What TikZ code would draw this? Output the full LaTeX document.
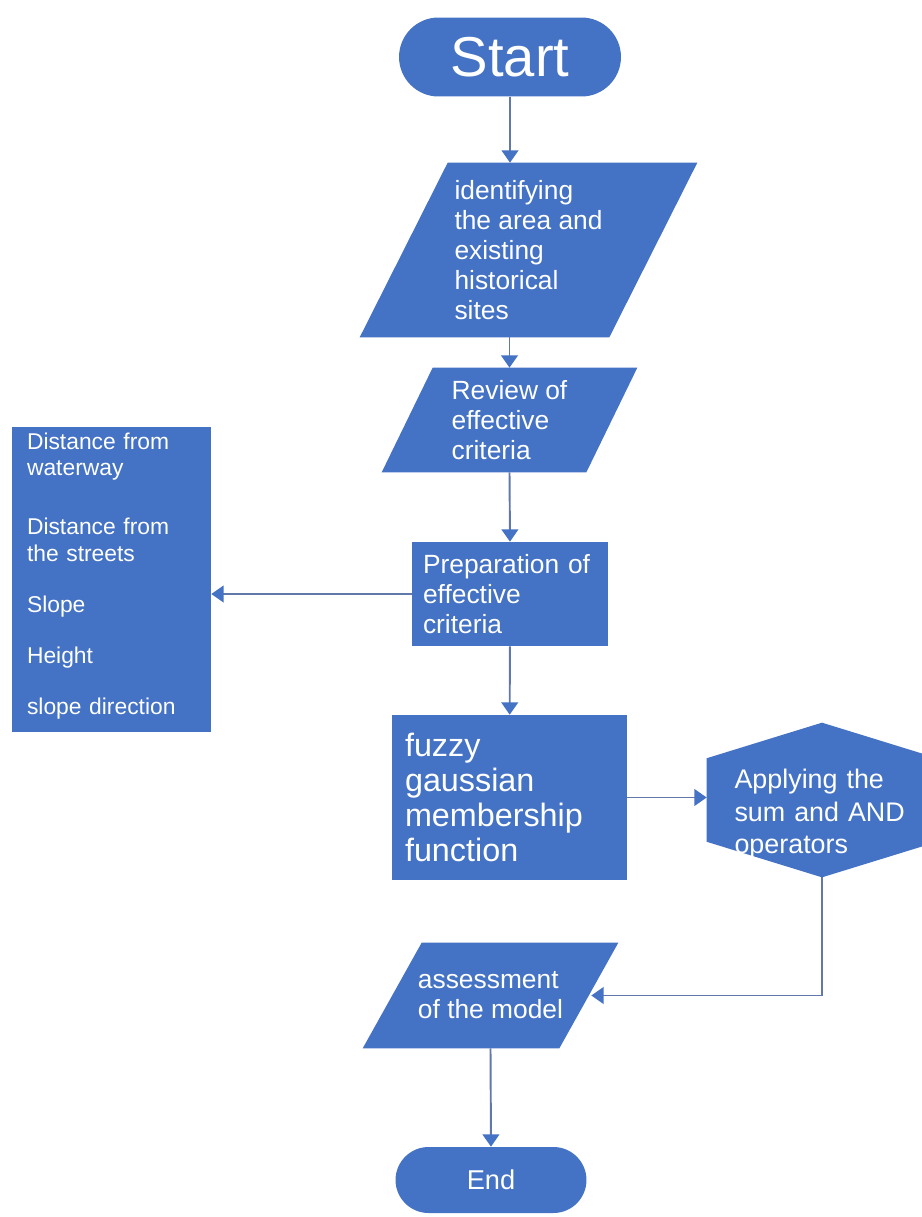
\documentclass[tikz,border=0pt]{standalone}
\usepackage{fontspec}
\setmainfont{Liberation Sans}
\usetikzlibrary{shapes.misc,arrows.meta,calc,backgrounds}
\definecolor{boxblue}{RGB}{68,114,196}
\definecolor{lineblue}{RGB}{96,120,170}
\tikzset{
	blk/.style={fill=boxblue, text=white, inner sep=2pt, align=left},
	term/.style={blk, rounded rectangle, align=center},
	io/.style={text=white, inner sep=2pt, align=left},
	proc/.style={blk, rectangle},
	arr/.style={draw=lineblue, line width=1.1pt, -{Triangle[width=9.5pt,length=7pt,color=boxblue]}},
}
% slanted box behind a node, #2 = horizontal offset of the top edge
\def\slanted(#1)(#2){\fill[boxblue] (#1.south west) -- ($(#1.north west)+(#2,0)$) -- (#1.north east) -- ($(#1.south east)-(#2,0)$) -- cycle;}
\def\hexagon(#1){\fill[boxblue] (#1.north) -- ($(#1.north east)!0.23!(#1.south east)$) -- ($(#1.north east)!0.77!(#1.south east)$) -- (#1.south) -- ($(#1.north west)!0.77!(#1.south west)$) -- ($(#1.north west)!0.23!(#1.south west)$) -- cycle;}

\begin{document}
\begin{tikzpicture}[x=0.02cm,y=-0.02cm]
		\useasboundingbox (0,0) rectangle (922,1217);
		\clip (0,0) rectangle (922,1217);
		%%%%% START %%%%%
		\node[term, minimum width=4.58cm, minimum height=1.58cm, font=\fontsize{32}{36}\selectfont] (start) at (510,57) {Start};
		
		\node[io, minimum width=6.74cm, minimum height=3.48cm, font=\fontsize{15}{17}\selectfont] (ident) at (528.5,250) {identifying\\the area and\\existing\\historical\\sites};
		
		\node[io, minimum width=5.1cm, minimum height=2.08cm, font=\fontsize{15}{17}\selectfont] (rev) at (509.5,420) {Review of\\effective\\criteria};
		
		\node[proc, minimum width=3.92cm, minimum height=2.08cm, inner xsep=0.22cm, text width=3.48cm, font=\fontsize{15}{17}\selectfont] (prep) at (510,594) {Preparation of\\effective\\criteria};
		
		\node[proc, minimum width=3.98cm, minimum height=1.56cm, inner xsep=0.3cm, text width=3.38cm, text depth=1.0cm, font=\fontsize{13}{15}\selectfont] (water) at (111.5,466) {Distance from\\waterway};
		\node[proc, minimum width=3.98cm, minimum height=4.54cm, inner xsep=0.3cm, text width=3.38cm, font=\fontsize{13}{15}\selectfont] (crit) at (111.5,618.5) {Distance from\\the streets\\[14pt]Slope\\[14pt]Height\\[14pt]slope direction};
		
		\node[proc, minimum width=4.7cm, minimum height=3.3cm, inner xsep=0.26cm, text width=4.18cm, font=\fontsize{18.4}{20}\selectfont] (fuzzy) at (509.5,797.5) {fuzzy\\gaussian\\membership\\function};
		
		\node[io, minimum width=4.6cm, minimum height=3.08cm, text width=3.5cm, text depth=0.84cm, font=\fontsize{15.3}{18.5}\selectfont] (apply) at (822,800) {Applying the\\sum and AND\\operators};
		
		\node[io, minimum width=5.1cm, minimum height=2.1cm, font=\fontsize{15}{17}\selectfont] (assess) at (490.5,995.5) {assessment\\of the model};
		\coordinate (assessin) at ($(assess.east)+(-27,0)$);
		
		\node[term, minimum width=3.96cm, minimum height=1.32cm, font=\fontsize{15.5}{18}\selectfont] (end) at (491,1180) {End};
		
		\begin{scope}[on background layer]
			\slanted(ident)(88)
			\slanted(rev)(51)
			\slanted(assess)(59)
			\hexagon(apply)
		\end{scope}
		
		%%%%% ARROWS %%%%%
		\draw[arr] (start) -- (start.south |- ident.north);
		\draw[arr] (ident.south -| rev.north) -- (rev.north);
		\draw[arr] (rev.south) -- (prep.north);
		\draw[arr] (prep.west) -- (prep.west -| crit.east);
		\draw[arr] (prep) -- (fuzzy);
		\draw[arr] (fuzzy.east) -- (fuzzy.east -| apply.west);
		\draw[arr] (apply.south) |- (assessin);
		\draw[arr] (assess.south) -- (end.north);
		%%%%% END %%%%%
\end{tikzpicture}
\end{document}
